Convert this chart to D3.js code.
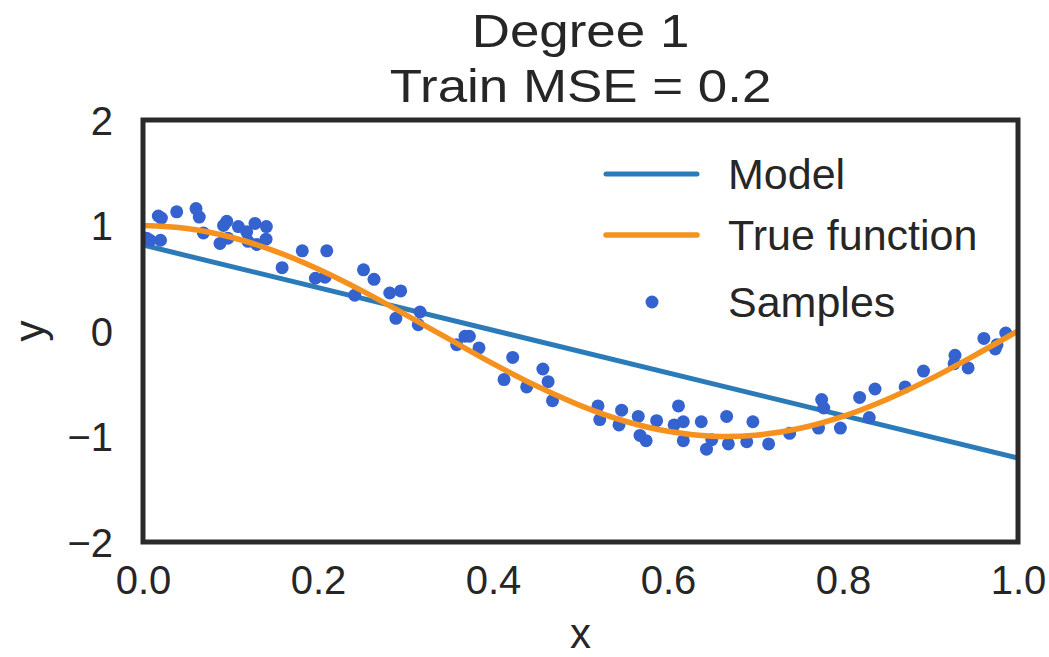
<!DOCTYPE html>
<html>
<head>
<meta charset="utf-8">
<script src="https://cdn.jsdelivr.net/npm/d3@7"></script>
<style>
  html, body { margin: 0; padding: 0; background: #fff; }
  svg { display: block; font-family: "Liberation Sans", Arial, sans-serif; }
</style>
</head>
<body>
<svg id="chart" width="1049" height="657"></svg>
<script>
// Noisy samples (x, y)
const sampleX = [0.004, 0.008, 0.0175, 0.020, 0.021, 0.0385, 0.0606, 0.0643, 0.069, 0.088,
  0.092, 0.0957, 0.097, 0.109, 0.1185, 0.12, 0.128, 0.13, 0.1406, 0.141,
  0.159, 0.182, 0.197, 0.208, 0.21, 0.242, 0.252, 0.264, 0.282, 0.2945,
  0.289, 0.3146, 0.3166, 0.3585, 0.368, 0.373, 0.384, 0.4126, 0.4225, 0.4385,
  0.457, 0.463, 0.468, 0.520, 0.522, 0.544, 0.547, 0.566, 0.568, 0.575,
  0.587, 0.607, 0.612, 0.6175, 0.6175, 0.638, 0.644, 0.65, 0.667, 0.669,
  0.690, 0.697, 0.715, 0.739, 0.772, 0.7756, 0.778, 0.797, 0.819, 0.830,
  0.8366, 0.871, 0.892, 0.927, 0.928, 0.943, 0.961, 0.974, 0.976, 0.986];
const sampleY = [0.88, 0.86, 1.09, 0.86, 1.07, 1.13, 1.16, 1.08, 0.93, 0.83,
  1.00, 1.04, 0.88, 0.99, 0.94, 0.85, 1.02, 0.82, 0.87, 0.99,
  0.60, 0.76, 0.50, 0.51, 0.76, 0.34, 0.58, 0.49, 0.36, 0.38,
  0.12, 0.06, 0.18, -0.13, -0.05, -0.05, -0.16, -0.46, -0.25, -0.53,
  -0.36, -0.48, -0.66, -0.71, -0.84, -0.89, -0.75, -0.81, -0.99, -1.04,
  -0.85, -0.89, -0.71, -0.86, -1.04, -0.86, -1.12, -1.03, -0.81, -1.07,
  -1.05, -0.86, -1.07, -0.97, -0.92, -0.65, -0.73, -0.92, -0.63, -0.82,
  -0.55, -0.53, -0.38, -0.31, -0.23, -0.35, -0.07, -0.17, -0.13, -0.02];

// True function, read at steps of 0.05
const trueX = [0, 0.05, 0.1, 0.15, 0.2, 0.25, 0.3, 0.35, 0.4, 0.45, 0.5,
  0.55, 0.6, 0.65, 0.7, 0.75, 0.8, 0.85, 0.9, 0.95, 1.0];
const trueY = [1.0, 0.972, 0.891, 0.760, 0.588, 0.383, 0.156, -0.078, -0.309, -0.522, -0.707,
  -0.853, -0.951, -0.997, -0.988, -0.924, -0.809, -0.649, -0.454, -0.233, 0.0];

// Degree-1 model fit, end points
const modelX = [0, 1];
const modelY = [0.815, -1.205];

const xTicks = [0, 0.2, 0.4, 0.6, 0.8, 1.0];
const yTicks = [-2, -1, 0, 1, 2];
const titleLines = ["Degree 1", "Train MSE = 0.2"];
const legendLabels = ["Model", "True function", "Samples"];

const colors = { model: "#2c7bb9", truth: "#f5921f", samples: "#3463d0", spine: "#2b2b2b", text: "#262626" };

const svg = d3.select("#chart");
const plot = { left: 143, right: 1018, top: 120, bottom: 542 };

const x = d3.scaleLinear().domain([0, 1]).range([plot.left, plot.right]);
const y = d3.scaleLinear().domain([-2, 2]).range([plot.bottom, plot.top]);

const fontSize = 40;
const cx = (plot.left + plot.right) / 2;

// Title (slightly wide lettering)
svg.append("g")
  .attr("transform", `translate(${cx},0) scale(1.15,1)`)
  .selectAll("text").data(titleLines).join("text")
  .attr("x", 0)
  .attr("y", (d, i) => 47 + i * 55)
  .attr("text-anchor", "middle")
  .attr("font-size", 46)
  .attr("fill", colors.text)
  .text(d => d);

// Axes (no tick marks, labels only)
const xAxis = svg.append("g")
  .attr("transform", `translate(0,${plot.bottom})`)
  .call(d3.axisBottom(x).tickValues(xTicks).tickFormat(d3.format(".1f")).tickSize(0).tickPadding(24));
const yAxis = svg.append("g")
  .attr("transform", `translate(${plot.left},0)`)
  .call(d3.axisLeft(y).tickValues(yTicks).tickFormat(d => d < 0 ? "\u2212" + Math.abs(d) : d).tickSize(0).tickPadding(30));
[xAxis, yAxis].forEach(g => {
  g.select(".domain").remove();
  g.selectAll("text").attr("font-size", fontSize).attr("fill", colors.text)
    .attr("font-family", "'Liberation Sans', Arial, sans-serif");
});
xAxis.selectAll("text").attr("dy", "0.71em");
yAxis.selectAll("text").attr("dy", "0.35em");

// Axis labels
svg.append("text")
  .attr("x", cx).attr("y", 648)
  .attr("text-anchor", "middle").attr("font-size", 42).attr("fill", colors.text)
  .text("x");
svg.append("text")
  .attr("transform", `translate(44,${(plot.top + plot.bottom) / 2}) rotate(-90)`)
  .attr("text-anchor", "middle").attr("font-size", 42).attr("fill", colors.text)
  .text("y");

// Clip to the axes area
svg.append("clipPath").attr("id", "clip").append("rect")
  .attr("x", plot.left).attr("y", plot.top)
  .attr("width", plot.right - plot.left).attr("height", plot.bottom - plot.top);

const layer = svg.append("g").attr("clip-path", "url(#clip)");

const line = d3.line().x(d => x(d[0])).y(d => y(d[1]));

// Model line
layer.append("path")
  .datum(d3.zip(modelX, modelY))
  .attr("d", line)
  .attr("fill", "none").attr("stroke", colors.model).attr("stroke-width", 5);

// Samples
layer.append("g").selectAll("circle").data(d3.zip(sampleX, sampleY)).join("circle")
  .attr("cx", d => x(d[0])).attr("cy", d => y(d[1]))
  .attr("r", 6.5).attr("fill", colors.samples);

// True function
layer.append("path")
  .datum(d3.zip(trueX, trueY))
  .attr("d", line.curve(d3.curveCatmullRom))
  .attr("fill", "none").attr("stroke", colors.truth).attr("stroke-width", 5.5);

// Frame
svg.append("rect")
  .attr("x", plot.left).attr("y", plot.top)
  .attr("width", plot.right - plot.left).attr("height", plot.bottom - plot.top)
  .attr("fill", "none").attr("stroke", colors.spine).attr("stroke-width", 5);

// Legend
const legend = svg.append("g");
const legendRows = [174, 235, 302];
legend.append("line").attr("x1", 606).attr("x2", 697).attr("y1", legendRows[0]).attr("y2", legendRows[0])
  .attr("stroke", colors.model).attr("stroke-width", 5).attr("stroke-linecap", "round");
legend.append("line").attr("x1", 606).attr("x2", 697).attr("y1", legendRows[1]).attr("y2", legendRows[1])
  .attr("stroke", colors.truth).attr("stroke-width", 5.5).attr("stroke-linecap", "round");
legend.append("circle").attr("cx", 652).attr("cy", legendRows[2]).attr("r", 6.5).attr("fill", colors.samples);
legend.selectAll("text").data(legendLabels).join("text")
  .attr("x", 728).attr("y", (d, i) => legendRows[i] + 15)
  .attr("font-size", 43).attr("fill", colors.text)
  .text(d => d);
</script>
</body>
</html>
